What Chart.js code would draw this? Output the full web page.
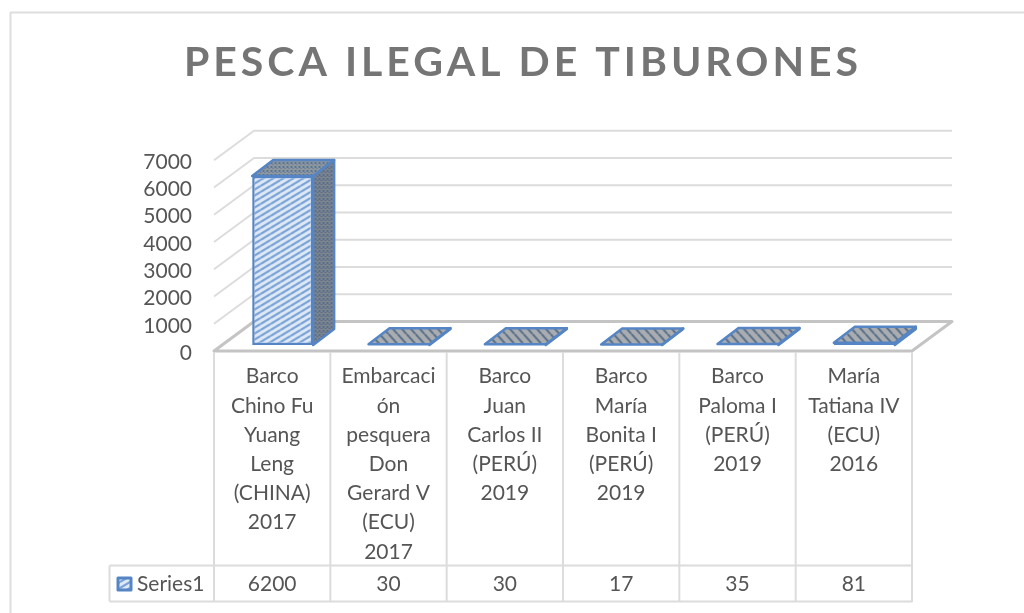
<!DOCTYPE html>
<html>
<head>
<meta charset="utf-8">
<title>Pesca ilegal de tiburones</title>
<script src="https://cdn.jsdelivr.net/npm/chart.js@4/dist/chart.umd.min.js"></script>
<style>
    html, body { margin: 0; padding: 0; background: #ffffff; }
    canvas { display: block; }
</style>
</head>
<body>
<canvas id="sharkChart" width="1024" height="613"></canvas>
<script>
var chartTitle = 'PESCA ILEGAL DE TIBURONES';
var seriesName = 'Series1';
var categories = [
    ['Barco', 'Chino Fu', 'Yuang', 'Leng', '(CHINA)', '2017'],
    ['Embarcaci', 'ón', 'pesquera', 'Don', 'Gerard V', '(ECU)', '2017'],
    ['Barco', 'Juan', 'Carlos II', '(PERÚ)', '2019'],
    ['Barco', 'María', 'Bonita I', '(PERÚ)', '2019'],
    ['Barco', 'Paloma I', '(PERÚ)', '2019'],
    ['María', 'Tatiana IV', '(ECU)', '2016']
];
var seriesValues = [6200, 30, 30, 17, 35, 81];

var textColor = '#555555';
var gridColor = '#dcdcdc';
var floorColor = '#c4c4c4';
var barBorder = '#5585c4';
var tableFont = '21px Lato';

// depth of the box behind the front plane, and how far the bars sit inside it
var wallDx = 40, wallDy = -29.5;
var barShiftX = 10.5, barShiftY = -6;
var barDepthX = 21, barDepthY = -16;

function makePattern(w, h, bg, draw) {
    var tile = document.createElement('canvas');
    tile.width = w;
    tile.height = h;
    var t = tile.getContext('2d');
    t.fillStyle = bg;
    t.fillRect(0, 0, w, h);
    draw(t);
    return t.createPattern(tile, 'repeat');
}

function stripes(w, h, bg, fg, lw, down) {
    return makePattern(w, h, bg, function (t) {
        t.strokeStyle = fg;
        t.lineWidth = lw;
        [-h, 0, h].forEach(function (o) {
            t.beginPath();
            t.moveTo(0, down ? o : h + o);
            t.lineTo(w, down ? h + o : o);
            t.stroke();
        });
    });
}

var frontFill = stripes(10, 6, '#dfe9f5', '#79a3d8', 2.2, false);
var dotFill = makePattern(4, 4, '#8f969e', function (t) {
    t.fillStyle = '#5a7696';
    t.fillRect(0, 0, 2, 2);
    t.fillRect(2, 2, 1, 1);
});
var sideFill = makePattern(4, 4, '#7d848d', function (t) {
    t.fillStyle = '#58708c';
    t.fillRect(0, 0, 2, 2);
    t.fillRect(2, 2, 2, 1);
});
var flatFill = stripes(9, 10, '#a9adb2', '#5a7088', 2, true);

function poly(ctx, pts, fill, stroke, lw) {
    ctx.beginPath();
    pts.forEach(function (p, i) {
        if (i === 0) ctx.moveTo(p[0], p[1]); else ctx.lineTo(p[0], p[1]);
    });
    if (fill) {
        ctx.closePath();
        ctx.fillStyle = fill;
        ctx.fill();
    }
    ctx.strokeStyle = stroke;
    ctx.lineWidth = lw;
    ctx.lineJoin = 'round';
    ctx.stroke();
}

var box3d = {
    id: 'box3d',
    beforeDraw: function (chart) {
        // Chart.js has no option for title letter spacing, and it centres over the plot side only
        var block = chart.titleBlock;
        if (block && !block.spaced) {
            var draw = block.draw;
            block.draw = function () {
                var c = chart.ctx;
                c.save();
                c.translate(67, 0);
                c.letterSpacing = '4px';
                draw.call(block);
                c.restore();
            };
            block.spaced = true;
        }
    },
    beforeDatasetsDraw: function (chart) {
        var ctx = chart.ctx, area = chart.chartArea, x = chart.scales.x, y = chart.scales.y;
        var left = area.left, right = area.right;

        // frame of the picture
        poly(ctx, [[10.5, 613], [10.5, 12.5], [1024, 12.5]], null, '#dedede', 2);

        // side wall and back wall
        y.ticks.forEach(function (tick) {
            if (tick.value === 0) return;
            var py = y.getPixelForValue(tick.value);
            poly(ctx, [[left, py], [left + wallDx, py + wallDy], [right + wallDx, py + wallDy]], null, gridColor, 2);
        });

        // floor
        var by = y.getPixelForValue(0);
        poly(ctx, [[left, by], [right, by], [right + wallDx, by + wallDy], [left + wallDx, by + wallDy]], '#ffffff', floorColor, 3);

        // data table under the axis
        var step = x.getPixelForValue(1) - x.getPixelForValue(0);
        var rowTop = 565.5, rowBottom = 601.5, rowLeft = 109.5;
        poly(ctx, [[rowLeft, rowTop], [right, rowTop], [right, rowBottom], [rowLeft, rowBottom]], null, gridColor, 2);
        poly(ctx, [[rowLeft, rowTop], [rowLeft, rowBottom]], null, gridColor, 2);
        for (var i = 0; i <= seriesValues.length; i++) {
            var cx = left + i * step;
            poly(ctx, [[cx, by + 1], [cx, rowBottom]], null, gridColor, 2);
        }

        ctx.save();
        ctx.font = tableFont;
        ctx.fillStyle = textColor;
        ctx.textBaseline = 'middle';
        ctx.textAlign = 'center';
        seriesValues.forEach(function (v, i) {
            ctx.fillText(String(v), x.getPixelForValue(i), 584);
        });
        ctx.textAlign = 'left';
        ctx.fillText(chart.data.datasets[0].label, 137, 584);
        ctx.restore();

        // legend key
        poly(ctx, [[118, 578], [131, 578], [131, 590], [118, 590]], frontFill, barBorder, 3);
    },
    beforeDatasetDraw: function (chart, args) {
        var ctx = chart.ctx;
        ctx.save();
        ctx.translate(barShiftX, barShiftY);
        args.meta.data.forEach(function (bar) {
            var l = bar.x - bar.width / 2, r = bar.x + bar.width / 2;
            var flat = bar.base - bar.y < 20;
            poly(ctx, [[r, bar.y], [r + barDepthX, bar.y + barDepthY], [r + barDepthX, bar.base + barDepthY], [r, bar.base]], sideFill, barBorder, 2.5);
            poly(ctx, [[l, bar.y], [l + barDepthX, bar.y + barDepthY], [r + barDepthX, bar.y + barDepthY], [r, bar.y]], flat ? flatFill : dotFill, barBorder, 2.5);
        });
    },
    afterDatasetDraw: function (chart) {
        chart.ctx.restore();
    }
};

var ctx = document.getElementById('sharkChart').getContext('2d');

var sharkChart = new Chart(ctx, {
    type: 'bar',
    data: {
        labels: categories,
        datasets: [
            {
                label: seriesName,
                data: seriesValues,
                backgroundColor: frontFill,
                borderColor: barBorder,
                borderWidth: 2.5,
                borderSkipped: false,
                barPercentage: 1,
                categoryPercentage: 0.524
            }
        ]
    },
    options: {
        responsive: false,
        animation: false,
        layout: {
            padding: { left: 0, right: 112, top: 0, bottom: 0 }
        },
        plugins: {
            legend: { display: false },
            tooltip: { enabled: false },
            title: {
                display: true,
                text: chartTitle,
                color: '#757575',
                font: { family: 'Lato', size: 41, weight: 'bold', lineHeight: 1.2 },
                padding: { top: 38, bottom: 73 }
            }
        },
        scales: {
            y: {
                min: 0,
                max: 7000,
                afterFit: function (scale) { scale.width = 214; },
                ticks: {
                    stepSize: 1000,
                    autoSkip: false,
                    padding: 22,
                    labelOffset: 2,
                    color: textColor,
                    font: { family: 'Lato', size: 21 },
                    format: { useGrouping: false }
                },
                grid: { display: false, drawTicks: false },
                border: { display: false }
            },
            x: {
                afterFit: function (scale) { scale.height = 262; },
                ticks: {
                    autoSkip: false,
                    maxRotation: 0,
                    minRotation: 0,
                    padding: 11,
                    color: textColor,
                    font: { family: 'Lato', size: 21, lineHeight: 1.39 }
                },
                grid: { display: false, drawTicks: false },
                border: { display: false }
            }
        }
    },
    plugins: [box3d]
});
</script>
</body>
</html>
